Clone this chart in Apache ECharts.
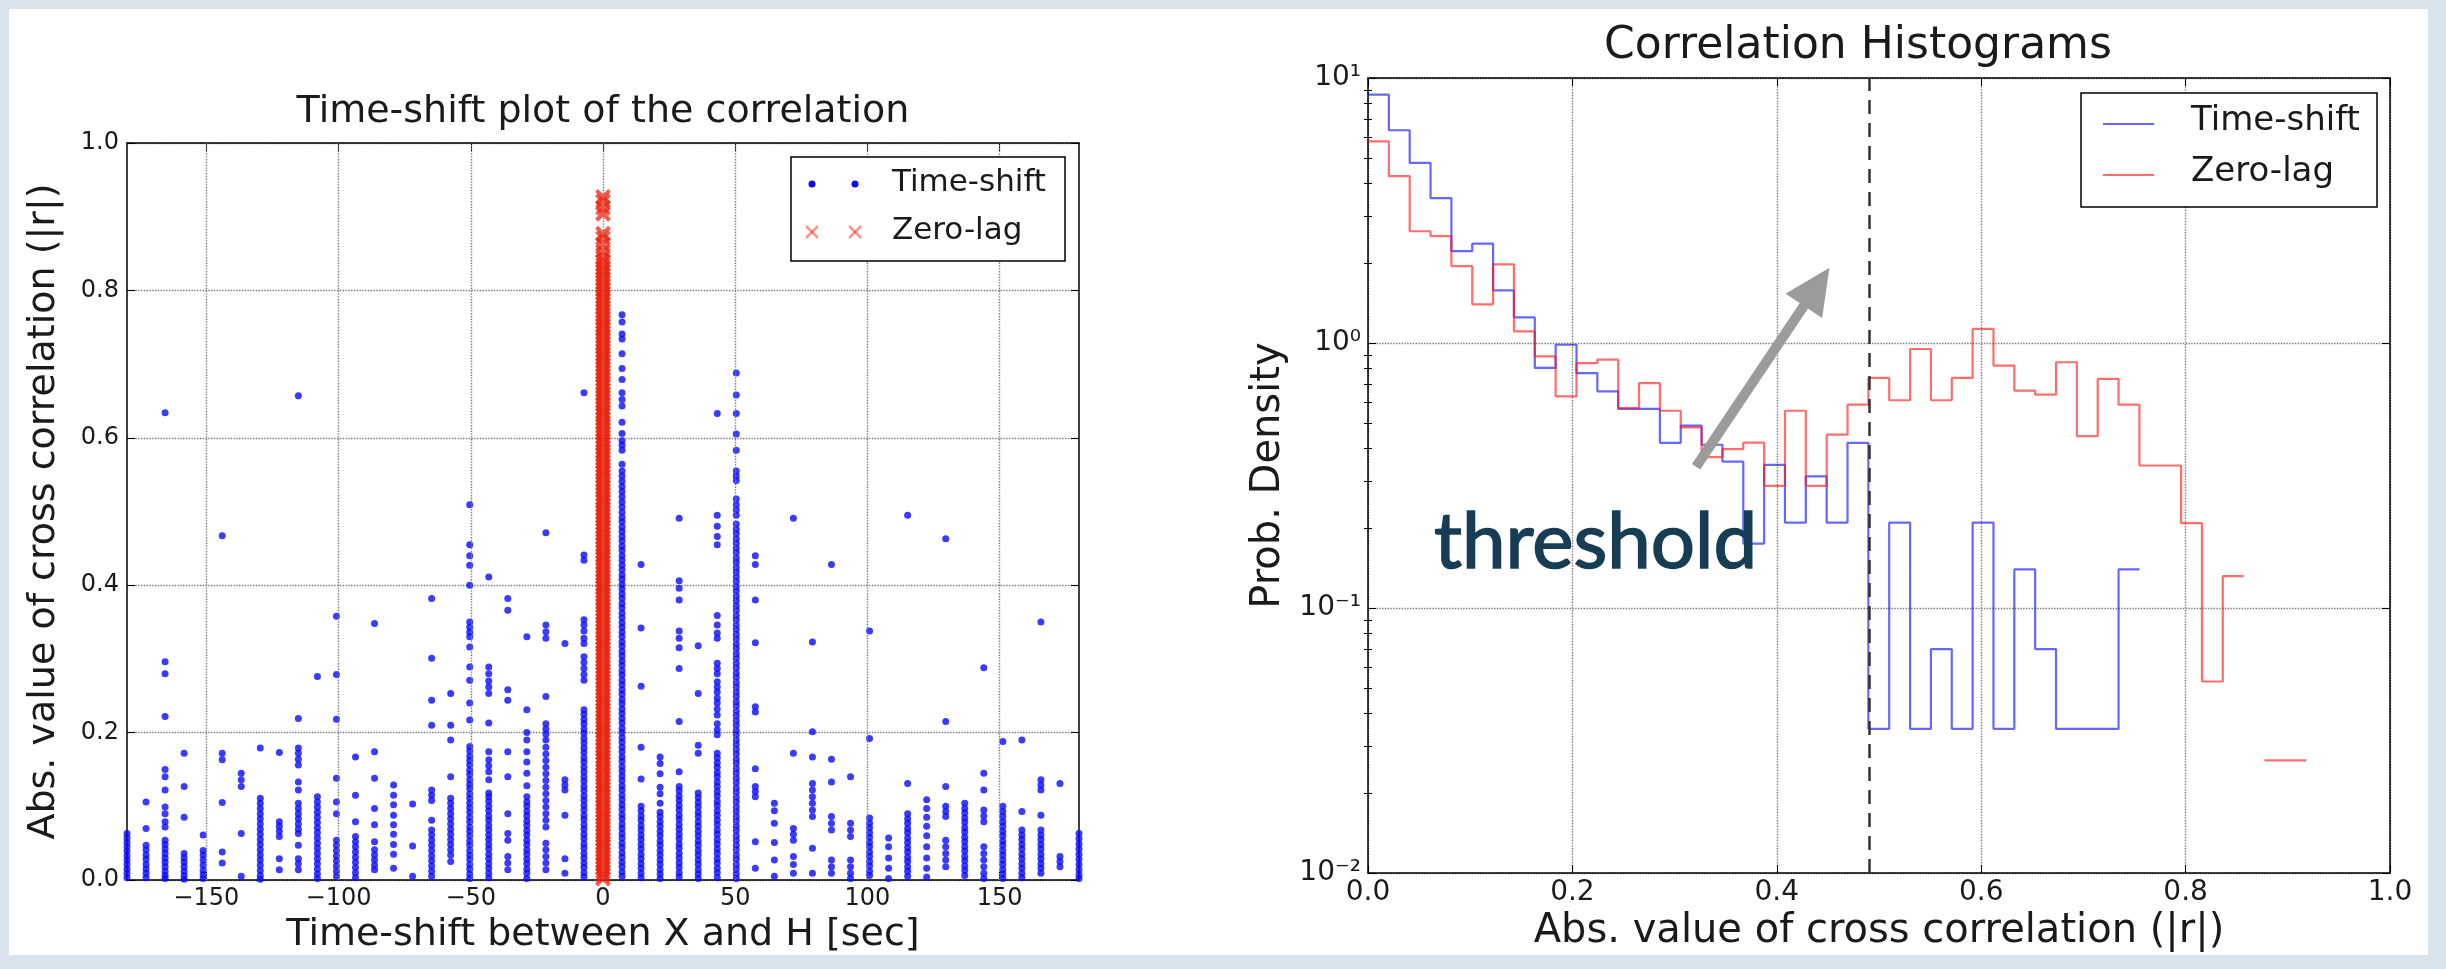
<!DOCTYPE html>
<html><head><meta charset="utf-8">
<script src="https://cdn.jsdelivr.net/npm/echarts@6/dist/echarts.min.js"></script>
<style>
html,body{margin:0;padding:0;width:2446px;height:969px;overflow:hidden;background:#d8e3ee;}
#paper{position:absolute;left:9px;top:9px;width:2419px;height:946px;background:#fff;}
#chart{position:absolute;left:0;top:0;width:2446px;height:969px;}
</style></head><body>
<div id="paper"></div>
<div id="chart"></div>
<script>
// ---- Time-shift scatter: one column of |r| values per time shift (s) ----
const timeShiftTicks = [-150, -100, -50, 0, 50, 100, 150];
const shifts = [-180, -172.8, -165.6, -158.4, -151.2, -144, -136.8, -129.6, -122.4, -115.2, -108, -100.8, -93.6, -86.4, -79.2, -72, -64.8, -57.6, -50.4, -43.2, -36, -28.8, -21.6, -14.4, -7.2,
  7.2, 14.4, 21.6, 28.8, 36, 43.2, 50.4, 57.6, 64.8, 72, 79.2, 86.4, 93.6, 100.8, 108, 115.2, 122.4, 129.6, 136.8, 144, 151.2, 158.4, 165.6, 172.8, 180];
const timeShiftCorr = [
  [0.063,0.057,0.051,0.045,0.039,0.033,0.027,0.021,0.015,0.009,0.003],
  [0.106,0.07,0.047,0.041,0.034,0.028,0.021,0.015,0.009,0.003],
  [0.634,0.296,0.28,0.222,0.15,0.14,0.122,0.099,0.09,0.079,0.072,0.054,0.048,0.042,0.036,0.03,0.024,0.018,0.012,0.006,0.002],
  [0.172,0.127,0.085,0.036,0.03,0.024,0.018,0.012,0.006,0.001],
  [0.061,0.04,0.034,0.027,0.02,0.013,0.007,0.002],
  [0.467,0.172,0.163,0.105,0.038,0.023],
  [0.145,0.136,0.127,0.063,0.005],
  [0.179,0.111,0.104,0.097,0.09,0.083,0.076,0.069,0.062,0.055,0.048,0.041,0.034,0.027,0.02,0.013,0.006,0.001],
  [0.173,0.079,0.073,0.066,0.059,0.029,0.014],
  [0.657,0.219,0.179,0.172,0.164,0.156,0.133,0.122,0.104,0.097,0.09,0.083,0.076,0.069,0.063,0.047,0.029,0.022,0.014],
  [0.276,0.113,0.106,0.099,0.092,0.085,0.078,0.071,0.064,0.057,0.05,0.043,0.036,0.029,0.022,0.015,0.008,0.002],
  [0.358,0.279,0.218,0.138,0.106,0.09,0.054,0.047,0.04,0.033,0.026,0.019,0.012,0.005],
  [0.167,0.115,0.079,0.059,0.052,0.045,0.038,0.031,0.024,0.017,0.01,0.003],
  [0.348,0.174,0.138,0.097,0.075,0.052,0.041,0.034,0.027,0.02,0.014],
  [0.129,0.115,0.102,0.088,0.075,0.062,0.048,0.035,0.016],
  [0.103,0.046,0.005],
  [0.382,0.301,0.244,0.21,0.122,0.115,0.108,0.081,0.068,0.061,0.054,0.047,0.04,0.033,0.026,0.019,0.012,0.005],
  [0.253,0.21,0.19,0.14,0.111,0.104,0.097,0.09,0.083,0.076,0.069,0.062,0.055,0.048,0.041,0.034,0.025],
  [0.509,0.455,0.44,0.427,0.4,0.35,0.343,0.336,0.33,0.316,0.289,0.271,0.24,0.217,0.181,0.175,0.168,0.162,0.156,0.149,0.143,0.136,0.13,0.124,0.117,0.111,0.104,0.098,0.092,0.085,0.079,0.072,0.066,0.06,0.053,0.047,0.04,0.034,0.028,0.021,0.015,0.008,0.002],
  [0.411,0.289,0.28,0.27,0.262,0.253,0.213,0.174,0.163,0.155,0.147,0.136,0.118,0.113,0.107,0.1,0.094,0.087,0.081,0.074,0.068,0.061,0.055,0.048,0.042,0.035,0.029,0.022,0.016,0.009,0.003],
  [0.382,0.366,0.258,0.244,0.174,0.14,0.09,0.063,0.054,0.032,0.023,0.014],
  [0.33,0.231,0.2,0.19,0.174,0.16,0.145,0.128,0.113,0.106,0.1,0.093,0.087,0.08,0.074,0.067,0.061,0.054,0.048,0.041,0.035,0.028,0.022,0.015,0.009,0.002],
  [0.471,0.346,0.337,0.328,0.249,0.212,0.205,0.198,0.19,0.18,0.171,0.162,0.153,0.144,0.135,0.126,0.117,0.108,0.099,0.09,0.081,0.072,0.05,0.041,0.032,0.023,0.014],
  [0.321,0.136,0.129,0.122,0.088,0.029,0.009],
  [0.661,0.441,0.434,0.353,0.346,0.338,0.328,0.321,0.303,0.295,0.287,0.279,0.271,0.231,0.225,0.218,0.212,0.205,0.199,0.192,0.186,0.179,0.173,0.166,0.16,0.153,0.147,0.14,0.134,0.127,0.121,0.114,0.108,0.101,0.095,0.088,0.082,0.075,0.069,0.062,0.056,0.049,0.043,0.036,0.03,0.023,0.017,0.01,0.004],
  [0.767,0.757,0.741,0.734,0.714,0.694,0.679,0.661,0.652,0.643,0.621,0.606,0.596,0.59,0.583,0.564,0.555,0.548,0.541,0.534,0.527,0.52,0.513,0.506,0.499,0.492,0.486,0.479,0.473,0.466,0.46,0.453,0.447,0.44,0.434,0.427,0.421,0.414,0.408,0.401,0.395,0.388,0.382,0.375,0.369,0.362,0.356,0.349,0.343,0.336,0.33,0.323,0.317,0.31,0.304,0.297,0.291,0.284,0.278,0.271,0.265,0.258,0.252,0.245,0.239,0.232,0.226,0.219,0.213,0.206,0.2,0.193,0.187,0.18,0.174,0.167,0.161,0.154,0.148,0.141,0.135,0.128,0.122,0.115,0.109,0.102,0.096,0.089,0.083,0.076,0.07,0.063,0.057,0.05,0.044,0.037,0.031,0.024,0.018,0.011,0.005],
  [0.428,0.342,0.263,0.18,0.137,0.1,0.094,0.087,0.081,0.074,0.068,0.061,0.055,0.048,0.042,0.035,0.029,0.022,0.016,0.009,0.003],
  [0.167,0.158,0.144,0.126,0.117,0.104,0.092,0.086,0.079,0.073,0.066,0.06,0.053,0.047,0.04,0.034,0.027,0.021,0.014,0.008,0.002],
  [0.491,0.406,0.396,0.38,0.338,0.328,0.315,0.287,0.215,0.147,0.127,0.121,0.114,0.108,0.101,0.095,0.088,0.082,0.075,0.069,0.062,0.056,0.049,0.043,0.036,0.03,0.023,0.017,0.01,0.004],
  [0.318,0.253,0.183,0.172,0.118,0.112,0.105,0.099,0.092,0.086,0.079,0.073,0.066,0.06,0.053,0.047,0.04,0.034,0.027,0.021,0.014,0.008,0.002],
  [0.633,0.495,0.48,0.466,0.455,0.359,0.346,0.335,0.328,0.294,0.287,0.28,0.269,0.262,0.255,0.247,0.24,0.232,0.224,0.212,0.204,0.197,0.172,0.166,0.159,0.153,0.146,0.14,0.133,0.127,0.12,0.114,0.107,0.101,0.094,0.088,0.081,0.075,0.068,0.062,0.055,0.049,0.042,0.036,0.029,0.023,0.016,0.01,0.003],
  [0.688,0.658,0.633,0.605,0.583,0.555,0.548,0.542,0.517,0.509,0.502,0.495,0.483,0.476,0.47,0.463,0.457,0.45,0.444,0.437,0.431,0.424,0.418,0.411,0.405,0.398,0.392,0.385,0.379,0.372,0.366,0.359,0.353,0.346,0.34,0.333,0.327,0.32,0.314,0.307,0.301,0.294,0.288,0.281,0.275,0.268,0.262,0.255,0.249,0.242,0.236,0.229,0.223,0.216,0.21,0.203,0.197,0.19,0.184,0.177,0.171,0.164,0.158,0.151,0.145,0.138,0.132,0.125,0.119,0.112,0.106,0.099,0.093,0.086,0.08,0.073,0.067,0.06,0.054,0.047,0.041,0.034,0.028,0.021,0.015,0.008,0.002],
  [0.44,0.428,0.38,0.322,0.235,0.228,0.151,0.127,0.12,0.113,0.052,0.016],
  [0.104,0.094,0.077,0.051,0.027,0.005],
  [0.491,0.172,0.07,0.062,0.054,0.032,0.021,0.009],
  [0.323,0.201,0.167,0.131,0.122,0.113,0.104,0.095,0.086,0.043,0.009],
  [0.428,0.164,0.133,0.086,0.077,0.068,0.027,0.018,0.009],
  [0.14,0.077,0.068,0.059,0.027,0.018,0.009,0.002],
  [0.338,0.192,0.084,0.077,0.071,0.064,0.058,0.051,0.045,0.038,0.032,0.025,0.019,0.012,0.006],
  [0.057,0.045,0.03,0.016,0.002],
  [0.495,0.131,0.09,0.083,0.077,0.07,0.064,0.057,0.051,0.044,0.038,0.031,0.025,0.018,0.012,0.005],
  [0.109,0.097,0.085,0.073,0.06,0.045,0.03,0.016,0.004],
  [0.463,0.215,0.127,0.1,0.093,0.086,0.054,0.045,0.036,0.027,0.018],
  [0.104,0.097,0.091,0.084,0.078,0.071,0.065,0.058,0.052,0.045,0.039,0.032,0.026,0.019,0.013,0.006],
  [0.288,0.145,0.122,0.095,0.087,0.079,0.045,0.036,0.027,0.018,0.009,0.002],
  [0.188,0.1,0.093,0.086,0.079,0.073,0.066,0.06,0.053,0.047,0.04,0.034,0.027,0.021,0.014,0.008,0.002],
  [0.19,0.093,0.068,0.061,0.055,0.048,0.042,0.035,0.029,0.022,0.016,0.009,0.003],
  [0.35,0.136,0.129,0.122,0.088,0.068,0.061,0.055,0.048,0.042,0.035,0.029,0.022,0.016,0.009],
  [0.131,0.032,0.025,0.018],
  [0.063,0.056,0.049,0.042,0.035,0.028,0.021,0.014,0.007,0.002]
];
// zero-lag |r| values (all at shift 0)
const zeroLagCorr = [0.002,0.007,0.011,0.016,0.021,0.026,0.031,0.036,0.041,0.046,0.05,0.055,0.06,0.065,0.07,0.075,0.08,0.085,0.089,0.094,0.099,0.104,0.109,0.114,0.119,0.124,0.128,0.133,0.138,0.143,0.148,0.153,0.158,0.163,0.167,0.172,0.177,0.182,0.187,0.192,0.197,0.202,0.206,0.211,0.216,0.221,0.226,0.231,0.236,0.241,0.245,0.25,0.255,0.26,0.265,0.27,0.275,0.28,0.284,0.289,0.294,0.299,0.304,0.309,0.314,0.319,0.323,0.328,0.333,0.338,0.343,0.348,0.353,0.358,0.362,0.367,0.372,0.377,0.382,0.387,0.392,0.397,0.401,0.406,0.411,0.416,0.421,0.426,0.431,0.436,0.44,0.445,0.45,0.455,0.46,0.465,0.47,0.475,0.479,0.484,0.489,0.494,0.499,0.504,0.509,0.514,0.518,0.523,0.528,0.533,0.538,0.543,0.548,0.553,0.557,0.562,0.567,0.572,0.577,0.582,0.587,0.592,0.596,0.601,0.606,0.611,0.616,0.621,0.626,0.631,0.635,0.64,0.645,0.65,0.655,0.66,0.665,0.67,0.674,0.679,0.684,0.689,0.694,0.699,0.704,0.709,0.713,0.718,0.723,0.728,0.733,0.738,0.743,0.748,0.752,0.757,0.762,0.767,0.772,0.777,0.782,0.787,0.791,0.796,0.801,0.806,0.811,0.816,0.821,0.826,0.83,0.835,0.84,0.845,0.853,0.862,0.871,0.877,0.904,0.912,0.921,0.927];

// ---- Correlation histograms (probability density per bin) ----
const binEdges = [0,0.0204,0.0408,0.0612,0.0816,0.102,0.1224,0.1428,0.1632,0.1836,0.204,0.2244,0.2448,0.2652,0.2856,0.306,0.3264,0.3468,0.3672,0.3876,0.408,0.4284,0.4488,0.4692,0.4896,0.51,0.5304,0.5508,0.5712,0.5916,0.612,0.6324,0.6528,0.6732,0.6936,0.714,0.7344,0.7548,0.7752,0.7956,0.816,0.8364,0.8568,0.8772,0.8976,0.918];
const densityTimeShift = [8.65,6.35,4.78,3.52,2.22,2.37,1.58,1.25,0.805,0.985,0.77,0.657,0.564,0.564,0.42,0.488,0.413,0.357,0.175,0.347,0.21,0.314,0.21,0.42,0.035,0.21,0.035,0.07,0.035,0.21,0.035,0.14,0.07,0.035,0.035,0.035,0.14,null,null,null,null,null,null,null,null];
const densityZeroLag = [5.77,4.26,2.64,2.53,1.95,1.40,1.98,1.107,0.89,0.629,0.84,0.865,0.568,0.706,0.555,0.48,0.371,0.398,0.421,0.289,0.555,0.289,0.451,0.585,0.738,0.608,0.949,0.608,0.738,1.13,0.821,0.661,0.638,0.846,0.445,0.732,0.585,0.345,0.345,0.209,0.0528,0.132,null,0.0266,0.0266];
const logMinorTicks = [0.02,0.03,0.04,0.05,0.06,0.07,0.08,0.09,0.2,0.3,0.4,0.5,0.6,0.7,0.8,0.9,2,3,4,5,6,7,8,9];
const thresholdR = 0.49;
// annotation arrow: tail and head-centre in (|r|, density) coordinates
const arrowFrom = [0.321, 0.341];
const arrowTo = [0.439, 1.63];

const FONT = 'DejaVu Sans';
const TXT = '#1a1a1a';

// scatter points
const timeShiftPts = [];
shifts.forEach((s, i) => timeShiftCorr[i].forEach(v => timeShiftPts.push([s, v])));
const zeroLagPts = zeroLagCorr.map(v => [0, v]);

// outline of a step histogram: flat top over each bin, breaks where a bin is empty
function stepOutline(edges, dens) {
  const pts = [];
  dens.forEach((d, k) => {
    if (d == null) { pts.push([edges[k], '-']); return; }
    pts.push([edges[k], d], [edges[k + 1], d]);
  });
  return pts;
}

const sup = { '1': '\u00b9', '0': '\u2070', '-1': '\u207b\u00b9', '-2': '\u207b\u00b2' };
const axisLineStyle = { color: '#000', width: 1.5 };
const gridDots = { color: '#777', type: 'dotted', width: 1.4 };
const minus = v => String(v).replace('-', '\u2212');

// legend cross marker built from two short strokes
function legendCross(cx, cy) {
  const s = 6, st = { stroke: 'rgba(255,21,0,0.45)', lineWidth: 2.5 };
  return [
    { type: 'line', z: 101, shape: { x1: cx - s, y1: cy - s, x2: cx + s, y2: cy + s }, style: st },
    { type: 'line', z: 101, shape: { x1: cx + s, y1: cy - s, x2: cx - s, y2: cy + s }, style: st }
  ];
}

const chart = echarts.init(document.getElementById('chart'), null, { renderer: 'canvas' });

chart.setOption({
  animation: false,
  backgroundColor: 'transparent',
  grid: [
    { left: 127, top: 143, width: 952, height: 737 },
    { left: 1368, top: 78, width: 1022, height: 795 }
  ],
  xAxis: [
    { gridIndex: 0, type: 'value', min: -180, max: 180, position: 'bottom',
      axisLine: { onZero: false, lineStyle: axisLineStyle },
      axisTick: { inside: true, length: 8, customValues: timeShiftTicks, lineStyle: { color: '#000' } },
      axisLabel: { customValues: timeShiftTicks, formatter: minus, fontSize: 24, fontFamily: FONT, color: TXT, margin: 7 },
      splitLine: { show: false },
      name: 'Time-shift between X and H [sec]', nameLocation: 'middle', nameGap: 36,
      nameTextStyle: { fontSize: 38, fontFamily: FONT, color: TXT } },
    { gridIndex: 0, type: 'value', min: -180, max: 180, position: 'top',
      axisLine: { onZero: false, lineStyle: axisLineStyle },
      axisTick: { inside: true, length: 8, customValues: timeShiftTicks, lineStyle: { color: '#000' } },
      axisLabel: { show: false }, splitLine: { show: false } },
    { gridIndex: 1, type: 'value', min: 0, max: 1, interval: 0.2, position: 'bottom',
      axisLine: { onZero: false, lineStyle: axisLineStyle },
      axisTick: { inside: true, length: 8, lineStyle: { color: '#000' } },
      axisLabel: { formatter: v => v.toFixed(1), fontSize: 28, fontFamily: FONT, color: TXT, margin: 6 },
      splitLine: { show: true, lineStyle: gridDots },
      name: 'Abs. value of cross correlation (|r|)', nameLocation: 'middle', nameGap: 37,
      nameTextStyle: { fontSize: 40, fontFamily: FONT, color: TXT } },
    { gridIndex: 1, type: 'value', min: 0, max: 1, interval: 0.2, position: 'top',
      axisLine: { onZero: false, lineStyle: axisLineStyle },
      axisTick: { inside: true, length: 8, lineStyle: { color: '#000' } },
      axisLabel: { show: false }, splitLine: { show: false } }
  ],
  yAxis: [
    { gridIndex: 0, type: 'value', min: 0, max: 1, interval: 0.2, position: 'left',
      axisLine: { onZero: false, lineStyle: axisLineStyle },
      axisTick: { inside: true, length: 8, lineStyle: { color: '#000' } },
      axisLabel: { formatter: v => v.toFixed(1), fontSize: 24, fontFamily: FONT, color: TXT, margin: 8 },
      splitLine: { show: true, lineStyle: gridDots },
      name: 'Abs. value of cross correlation (|r|)', nameLocation: 'middle', nameGap: 64,
      nameTextStyle: { fontSize: 38, fontFamily: FONT, color: TXT } },
    { gridIndex: 0, type: 'value', min: 0, max: 1, interval: 0.2, position: 'right',
      axisLine: { onZero: false, lineStyle: axisLineStyle },
      axisTick: { inside: true, length: 8, lineStyle: { color: '#000' } },
      axisLabel: { show: false }, splitLine: { show: false } },
    { gridIndex: 1, type: 'log', logBase: 10, min: 0.01, max: 10, position: 'left',
      axisLine: { onZero: false, lineStyle: axisLineStyle },
      axisTick: { inside: true, length: 8, lineStyle: { color: '#000' } },
      axisLabel: { formatter: v => '10' + sup[String(Math.round(Math.log10(v)))], fontSize: 28, fontFamily: FONT, color: TXT, margin: 7 },
      splitLine: { show: true, lineStyle: gridDots },
      name: 'Prob. Density', nameLocation: 'middle', nameGap: 79,
      nameTextStyle: { fontSize: 40, fontFamily: FONT, color: TXT } },
    { gridIndex: 1, type: 'log', logBase: 10, min: 0.01, max: 10, position: 'right',
      axisLine: { onZero: false, lineStyle: axisLineStyle },
      axisTick: { inside: true, length: 8, lineStyle: { color: '#000' } },
      axisLabel: { show: false }, splitLine: { show: false } },
    { gridIndex: 1, type: 'log', logBase: 10, min: 0.01, max: 10, position: 'left',
      axisLine: { show: false },
      axisTick: { inside: true, length: 4, customValues: logMinorTicks, lineStyle: { color: '#000' } },
      axisLabel: { show: false }, splitLine: { show: false } },
    { gridIndex: 1, type: 'log', logBase: 10, min: 0.01, max: 10, position: 'right',
      axisLine: { show: false },
      axisTick: { inside: true, length: 4, customValues: logMinorTicks, lineStyle: { color: '#000' } },
      axisLabel: { show: false }, splitLine: { show: false } }
  ],
  series: [
    { name: 'Time-shift', type: 'scatter', xAxisIndex: 0, yAxisIndex: 0,
      data: timeShiftPts, symbol: 'circle', symbolSize: 7,
      itemStyle: { color: '#0a0aff' }, z: 3,
      markLine: { silent: true, symbol: 'none', label: { show: false },
        lineStyle: gridDots, data: timeShiftTicks.map(v => ({ xAxis: v })) } },
    { name: 'Zero-lag', type: 'scatter', xAxisIndex: 0, yAxisIndex: 0,
      data: zeroLagPts, symbol: 'path://M0,0L10,10M10,0L0,10', symbolSize: 13,
      itemStyle: { color: 'rgba(0,0,0,0)', borderColor: '#f01e0a', borderWidth: 4, opacity: 0.72 }, z: 4 },
    { name: 'Time-shift', type: 'line', xAxisIndex: 2, yAxisIndex: 2,
      data: stepOutline(binEdges, densityTimeShift), showSymbol: false, connectNulls: false,
      lineStyle: { color: 'rgba(10,10,255,0.62)', width: 2.2 }, z: 3,
      markLine: { silent: true, symbol: 'none', label: { show: false },
        lineStyle: { color: '#333', width: 2.5, type: [14, 9] }, data: [{ xAxis: thresholdR }] } },
    { name: 'Zero-lag', type: 'line', xAxisIndex: 2, yAxisIndex: 2,
      data: stepOutline(binEdges, densityZeroLag), showSymbol: false, connectNulls: false,
      lineStyle: { color: 'rgba(255,20,20,0.62)', width: 2.2 }, z: 4,
      markLine: { silent: true, symbol: ['none', 'triangle'], symbolSize: [44, 46], label: { show: false },
        lineStyle: { color: '#9b9b9b', width: 10, type: 'solid', opacity: 1 },
        data: [[{ coord: arrowFrom }, { coord: arrowTo }]] } }
  ],
  graphic: [
    // titles
    { type: 'text', z: 100, style: { text: 'Time-shift plot of the correlation', x: 603, y: 112, align: 'center', verticalAlign: 'middle', fontSize: 38, fontFamily: FONT, fill: TXT } },
    { type: 'text', z: 100, style: { text: 'Correlation Histograms', x: 1858, y: 47, align: 'center', verticalAlign: 'middle', fontSize: 44, fontFamily: FONT, fill: TXT } },
    // left legend
    { type: 'rect', z: 100, shape: { x: 791, y: 157, width: 274, height: 104 }, style: { fill: '#fff', stroke: '#000', lineWidth: 1.5 } },
    { type: 'circle', z: 101, shape: { cx: 812, cy: 184, r: 3.5 }, style: { fill: '#0a0aff' } },
    { type: 'circle', z: 101, shape: { cx: 855, cy: 184, r: 3.5 }, style: { fill: '#0a0aff' } },
    ...legendCross(812, 232),
    ...legendCross(855, 232),
    { type: 'text', z: 101, style: { text: 'Time-shift', x: 892, y: 183, verticalAlign: 'middle', fontSize: 31, fontFamily: FONT, fill: TXT } },
    { type: 'text', z: 101, style: { text: 'Zero-lag', x: 892, y: 231, verticalAlign: 'middle', fontSize: 31, fontFamily: FONT, fill: TXT } },
    // right legend
    { type: 'rect', z: 100, shape: { x: 2081, y: 93, width: 296, height: 114 }, style: { fill: '#fff', stroke: '#000', lineWidth: 1.5 } },
    { type: 'line', z: 101, shape: { x1: 2103, y1: 124, x2: 2154, y2: 124 }, style: { stroke: 'rgba(10,10,255,0.62)', lineWidth: 2.2 } },
    { type: 'line', z: 101, shape: { x1: 2103, y1: 175, x2: 2154, y2: 175 }, style: { stroke: 'rgba(255,20,20,0.62)', lineWidth: 2.2 } },
    { type: 'text', z: 101, style: { text: 'Time-shift', x: 2191, y: 121, verticalAlign: 'middle', fontSize: 34, fontFamily: FONT, fill: TXT } },
    { type: 'text', z: 101, style: { text: 'Zero-lag', x: 2191, y: 172, verticalAlign: 'middle', fontSize: 34, fontFamily: FONT, fill: TXT } },
    // annotation
    { type: 'text', z: 102, style: { text: 'threshold', x: 1434, y: 543, verticalAlign: 'middle', fontSize: 78, fontFamily: 'Lato', fill: '#163d54', stroke: '#163d54', lineWidth: 1.6 } }
  ]
});
</script></body></html>
